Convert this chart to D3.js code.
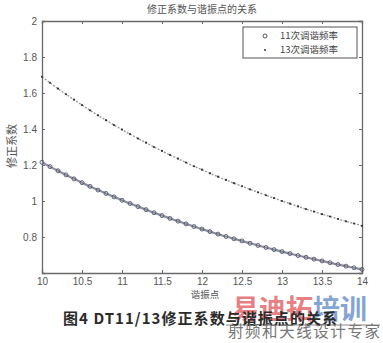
<!DOCTYPE html>
<html>
<head>
<meta charset="utf-8">
<script src="https://cdn.jsdelivr.net/npm/d3@7/dist/d3.min.js"></script>
<style>
  body { margin: 0; background: #fff; }
  text { font-family: "Noto Sans CJK SC", "DejaVu Sans", sans-serif; }
</style>
</head>
<body>
<div id="chart"></div>
<script>
  // 谐振点
  var xPts = [10, 10.1, 10.2, 10.3, 10.4, 10.5, 10.6, 10.7, 10.8, 10.9,
              11, 11.1, 11.2, 11.3, 11.4, 11.5, 11.6, 11.7, 11.8, 11.9,
              12, 12.1, 12.2, 12.3, 12.4, 12.5, 12.6, 12.7, 12.8, 12.9,
              13, 13.1, 13.2, 13.3, 13.4, 13.5, 13.6, 13.7, 13.8, 13.9, 14];
  // 11次调谐频率
  var k11 = [1.215, 1.191, 1.168, 1.145, 1.123, 1.102, 1.081, 1.061, 1.042, 1.023,
             1.004, 0.986, 0.969, 0.952, 0.935, 0.919, 0.903, 0.888, 0.873, 0.858,
             0.844, 0.830, 0.816, 0.803, 0.790, 0.778, 0.765, 0.753, 0.742, 0.730,
             0.719, 0.708, 0.697, 0.687, 0.677, 0.667, 0.657, 0.647, 0.638, 0.629, 0.620];
  // 13次调谐频率
  var k13 = [1.690, 1.657, 1.624, 1.593, 1.563, 1.533, 1.504, 1.476, 1.449, 1.422,
             1.397, 1.372, 1.347, 1.324, 1.300, 1.278, 1.256, 1.235, 1.214, 1.193,
             1.174, 1.154, 1.135, 1.117, 1.099, 1.082, 1.065, 1.048, 1.032, 1.016,
             1.000, 0.985, 0.970, 0.955, 0.941, 0.927, 0.914, 0.900, 0.887, 0.875, 0.862];
  var xTicks = [10, 10.5, 11, 11.5, 12, 12.5, 13, 13.5, 14];
  var yTicks = [0.8, 1, 1.2, 1.4, 1.6, 1.8, 2];
  var seriesNames = ["11次调谐频率", "13次调谐频率"];

  var W = 383, H = 343;
  var margin = {top: 21, right: 21, bottom: 70, left: 42},
      width = W - margin.left - margin.right,
      height = H - margin.top - margin.bottom;

  var svg = d3.select("#chart").append("svg")
      .attr("width", W).attr("height", H);

  var g = svg.append("g")
      .attr("transform", "translate(" + margin.left + "," + margin.top + ")");

  var x = d3.scaleLinear().domain([10, 14]).range([0, width]);
  var y = d3.scaleLinear().domain([0.6, 2]).range([height, 0]);

  var axisCol = "#6a6a6a";

  // ejes tipo matlab, ticks hacia dentro
  var xb = g.append("g").attr("transform", "translate(0," + height + ")")
      .call(d3.axisBottom(x).tickValues(xTicks).tickSize(-3).tickPadding(5)
        .tickFormat(function(d) { return d; }));
  var xt = g.append("g")
      .call(d3.axisTop(x).tickValues(xTicks).tickSize(-3).tickFormat(""));
  var yl = g.append("g")
      .call(d3.axisLeft(y).tickValues(yTicks).tickSize(-3).tickPadding(5)
        .tickFormat(function(d) { return d; }));
  var yr = g.append("g").attr("transform", "translate(" + width + ",0)")
      .call(d3.axisRight(y).tickValues(yTicks).tickSize(-3).tickFormat(""));

  [xb, xt, yl, yr].forEach(function(a) {
    a.select(".domain").attr("stroke", axisCol).attr("stroke-width", 1.3);
    a.selectAll(".tick line").attr("stroke", axisCol);
    a.selectAll(".tick text").attr("fill", "#555").style("font-size", "10px")
      .style("font-family", "Liberation Sans, Arial, sans-serif");
  });

  // lineas de datos
  var line = d3.line()
      .x(function(d, i) { return x(xPts[i]); })
      .y(function(d) { return y(d); })
      .curve(d3.curveMonotoneX);

  g.append("path").datum(k11).attr("d", line)
    .attr("fill", "none").attr("stroke", "#8a8fa0").attr("stroke-width", 2.2);
  g.append("path").datum(k13).attr("d", line)
    .attr("fill", "none").attr("stroke", "#9a9a9a").attr("stroke-width", 1.4)
    .attr("stroke-dasharray", "2,1.5");

  g.selectAll(".m11").data(k11).enter().append("circle")
    .attr("cx", function(d, i) { return x(xPts[i]); })
    .attr("cy", function(d) { return y(d); })
    .attr("r", 2)
    .attr("fill", "none").attr("stroke", "#44485a").attr("stroke-width", 0.8);

  g.selectAll(".m13").data(k13).enter().append("circle")
    .attr("cx", function(d, i) { return x(xPts[i]); })
    .attr("cy", function(d) { return y(d); })
    .attr("r", 1.1)
    .attr("fill", "#333");

  // leyenda
  var leg = g.append("g").attr("transform", "translate(" + (width - 119) + ",6)");
  leg.append("rect").attr("width", 114).attr("height", 31)
    .attr("fill", "#fff").attr("stroke", "#555").attr("stroke-width", 1);
  leg.append("circle").attr("cx", 22).attr("cy", 9).attr("r", 2)
    .attr("fill", "none").attr("stroke", "#555");
  leg.append("circle").attr("cx", 22).attr("cy", 23).attr("r", 1.1).attr("fill", "#444");
  leg.selectAll(".lt").data(seriesNames).enter().append("text")
    .attr("x", 37).attr("y", function(d, i) { return 12 + i * 14; })
    .attr("fill", "#444").style("font-size", "9.5px")
    .text(function(d) { return d; });

  // titulos
  svg.append("text").attr("x", 202).attr("y", 13).attr("text-anchor", "middle")
    .attr("fill", "#555").style("font-size", "10px").text("修正系数与谐振点的关系");
  svg.append("text").attr("x", 205).attr("y", 298).attr("text-anchor", "middle")
    .attr("fill", "#555").style("font-size", "9.5px").text("谐振点");
  svg.append("text").attr("transform", "translate(16,146) rotate(-90)")
    .attr("text-anchor", "middle").attr("fill", "#555").style("font-size", "11px")
    .text("修正系数");

  // marca de agua (detras del pie)
  svg.append("text").attr("x", 232).attr("y", 319).attr("fill", "#e0555a")
    .attr("opacity", 0.75).style("font-size", "27px").style("font-weight", "bold")
    .text("易迪拓");
  svg.append("text").attr("x", 313).attr("y", 319).attr("fill", "#5a86c8")
    .attr("opacity", 0.75).style("font-size", "27px").style("font-weight", "bold")
    .text("培训");
  svg.append("line").attr("x1", 226).attr("x2", 380).attr("y1", 325).attr("y2", 325)
    .attr("stroke", "#888").attr("stroke-width", 1);

  // pie de figura
  svg.append("text").attr("x", 63).attr("y", 324).attr("fill", "#2a2a2a")
    .attr("textLength", 274).attr("lengthAdjust", "spacing")
    .style("font-size", "15px").style("font-weight", "bold")
    .text("图4 DT11/13修正系数与谐振点的关系");

  svg.append("text").attr("x", 228).attr("y", 337).attr("fill", "#777")
    .attr("textLength", 152).attr("lengthAdjust", "spacing")
    .style("font-size", "15.5px").text("射频和天线设计专家");
</script>
</body>
</html>
